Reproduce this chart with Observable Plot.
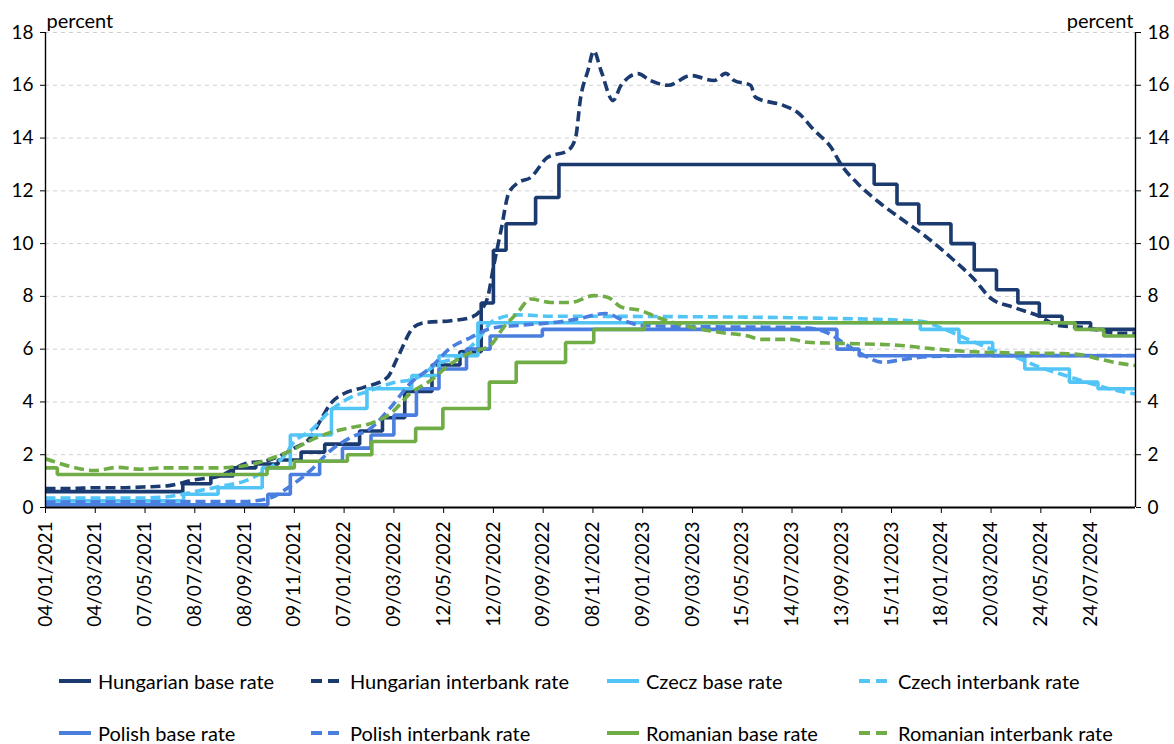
<!DOCTYPE html>
<html>
<head>
<meta charset="utf-8">
<script src="https://cdn.jsdelivr.net/npm/d3@7"></script>
<script src="https://cdn.jsdelivr.net/npm/@observablehq/plot@0.6"></script>
<style>
  html, body { margin: 0; padding: 0; background: #fff; }
  body { width: 1174px; height: 744px; overflow: hidden; font-family: Lato, "Noto Sans", sans-serif; }
  #chart svg { display: block; }
  #legend { position: relative; width: 1174px; height: 104px; font-size: 20px; line-height: 20px; color: #000; }
  .item { position: absolute; display: flex; align-items: center; white-space: nowrap; height: 20px; }
  .item svg { display: block; }
</style>
</head>
<body>
<div id="chart"></div>
<div id="legend"></div>
<script>
// ---- tick labels (category axis, every ~2 months of business days) ----
const tickLabels = ["04/01/2021","04/03/2021","07/05/2021","08/07/2021","08/09/2021","09/11/2021",
  "07/01/2022","09/03/2022","12/05/2022","12/07/2022","09/09/2022","08/11/2022",
  "09/01/2023","09/03/2023","15/05/2023","14/07/2023","13/09/2023","15/11/2023",
  "18/01/2024","20/03/2024","24/05/2024","24/07/2024"];
const endDateStr = "2024-09-17";
const yTicks = [0,2,4,6,8,10,12,14,16,18];

// ---- series: [date, percent] ----
const huBase = [["2021-01-04",0.6],["2021-06-23",0.9],["2021-07-28",1.2],["2021-08-25",1.5],["2021-09-22",1.65],
  ["2021-10-20",1.8],["2021-11-17",2.1],["2021-12-15",2.4],["2022-01-26",2.9],["2022-02-23",3.4],["2022-03-23",4.4],
  ["2022-04-27",5.4],["2022-06-01",5.9],["2022-06-27",7.75],["2022-07-12",9.75],["2022-07-27",10.75],["2022-08-31",11.75],
  ["2022-09-28",13],["2023-10-24",12.25],["2023-11-22",11.5],["2023-12-20",10.75],["2024-01-30",10],["2024-02-28",9],
  ["2024-03-27",8.25],["2024-04-24",7.75],["2024-05-22",7.25],["2024-06-19",7],["2024-07-24",6.75]];
const huInterbank = [["2021-01-04",0.72],["2021-02-03",0.72],["2021-03-04",0.75],["2021-04-05",0.75],["2021-05-07",0.78],
  ["2021-06-06",0.83],["2021-07-08",1.05],["2021-08-08",1.2],["2021-09-08",1.65],["2021-10-09",1.8],["2021-11-09",2.25],
  ["2021-11-28",2.65],["2021-12-10",3.3],["2021-12-22",3.94],["2022-01-07",4.32],["2022-01-31",4.55],["2022-03-01",4.93],
  ["2022-03-14",5.7],["2022-04-03",6.82],["2022-04-16",7.0],["2022-05-21",7.08],["2022-06-14",7.2],["2022-06-26",7.46],
  ["2022-07-05",7.96],["2022-07-12",9.1],["2022-07-21",10.5],["2022-07-30",11.9],["2022-08-10",12.3],["2022-08-25",12.5],
  ["2022-09-14",13.26],["2022-10-09",13.53],["2022-10-18",14.0],["2022-10-24",15.5],["2022-11-02",16.56],["2022-11-09",17.3],
  ["2022-11-18",16.56],["2022-12-03",15.42],["2022-12-13",16.0],["2023-01-03",16.44],["2023-01-18",16.18],["2023-02-08",16.0],
  ["2023-03-07",16.37],["2023-04-07",16.18],["2023-04-23",16.45],["2023-05-04",16.18],["2023-05-25",16.0],["2023-05-31",15.54],
  ["2023-07-04",15.23],["2023-07-21",14.97],["2023-08-10",14.3],["2023-08-31",13.64],["2023-09-12",13.0],["2023-10-03",12.28],
  ["2023-11-01",11.52],["2023-11-27",10.95],["2024-01-01",10.2],["2024-02-03",9.36],["2024-02-27",8.68],["2024-03-20",7.92],
  ["2024-04-19",7.58],["2024-05-20",7.27],["2024-06-14",6.9],["2024-07-16",6.82],["2024-08-27",6.6],["2024-09-17",6.6]];
const czBase = [["2021-01-04",0.25],["2021-06-24",0.5],["2021-08-06",0.75],["2021-09-30",1.5],["2021-11-04",2.75],
  ["2021-12-23",3.75],["2022-02-04",4.5],["2022-04-01",5.0],["2022-05-06",5.75],["2022-06-23",7.0],["2023-12-22",6.75],
  ["2024-02-09",6.25],["2024-03-22",5.75],["2024-05-03",5.25],["2024-06-28",4.75],["2024-08-02",4.5]];
const czInterbank = [["2021-01-04",0.36],["2021-03-04",0.36],["2021-05-07",0.36],["2021-06-07",0.42],["2021-07-08",0.6],
  ["2021-08-08",0.8],["2021-09-08",1.0],["2021-10-09",1.5],["2021-10-26",1.9],["2021-11-09",2.5],["2021-11-28",2.9],
  ["2021-12-22",3.68],["2022-01-15",4.17],["2022-02-08",4.43],["2022-03-05",4.7],["2022-04-09",4.93],["2022-05-04",5.45],
  ["2022-05-29",5.7],["2022-06-22",6.33],["2022-07-12",7.08],["2022-08-10",7.3],["2022-09-18",7.25],["2023-01-07",7.24],
  ["2023-09-12",7.16],["2023-12-23",7.06],["2024-01-18",6.8],["2024-02-18",6.4],["2024-03-20",6.0],["2024-04-21",5.7],
  ["2024-05-24",5.3],["2024-06-23",5.0],["2024-07-24",4.7],["2024-08-23",4.45],["2024-09-17",4.3]];
const plBase = [["2021-01-04",0.1],["2021-10-07",0.5],["2021-11-04",1.25],["2021-12-09",1.75],["2022-01-05",2.25],
  ["2022-02-09",2.75],["2022-03-09",3.5],["2022-04-07",4.5],["2022-05-06",5.25],["2022-06-09",6.0],["2022-07-08",6.5],
  ["2022-09-08",6.75],["2023-09-07",6.0],["2023-10-05",5.75]];
const plInterbank = [["2021-01-04",0.21],["2021-09-08",0.23],["2021-10-09",0.35],["2021-11-05",0.83],["2021-11-28",1.4],
  ["2021-12-22",2.16],["2022-01-15",2.65],["2022-02-08",2.99],["2022-03-05",3.79],["2022-03-30",4.7],["2022-04-25",5.3],
  ["2022-05-21",6.06],["2022-06-14",6.44],["2022-07-08",6.78],["2022-08-10",6.9],["2022-09-18",7.0],["2022-10-16",7.12],
  ["2022-11-24",7.35],["2022-12-16",7.09],["2023-01-07",6.9],["2023-03-20",6.85],["2023-07-25",6.82],["2023-08-24",6.65],
  ["2023-09-12",6.3],["2023-10-07",5.83],["2023-11-05",5.5],["2023-11-27",5.6],["2024-01-05",5.72],["2024-03-20",5.76],
  ["2024-09-17",5.76]];
const roBase = [["2021-01-04",1.5],["2021-01-18",1.25],["2021-10-06",1.5],["2021-11-09",1.75],["2022-01-11",2.0],
  ["2022-02-10",2.5],["2022-04-06",3.0],["2022-05-11",3.75],["2022-07-07",4.75],["2022-08-08",5.5],["2022-10-06",6.25],
  ["2022-11-09",6.75],["2023-01-11",7.0],["2024-07-05",6.75],["2024-08-09",6.5]];
const roInterbank = [["2021-01-04",1.85],["2021-01-18",1.7],["2021-02-03",1.55],["2021-03-03",1.4],["2021-04-02",1.52],
  ["2021-05-01",1.45],["2021-05-30",1.5],["2021-08-01",1.5],["2021-09-08",1.58],["2021-10-10",1.85],["2021-11-05",2.16],
  ["2021-11-28",2.54],["2021-12-22",2.84],["2022-01-15",3.03],["2022-02-08",3.18],["2022-03-05",3.56],["2022-03-30",4.32],
  ["2022-04-25",4.81],["2022-05-21",5.45],["2022-06-14",5.87],["2022-07-08",6.14],["2022-07-24",6.82],["2022-08-10",7.4],
  ["2022-08-25",7.9],["2022-09-18",7.77],["2022-10-12",7.77],["2022-11-09",8.03],["2022-11-27",7.96],["2022-12-13",7.6],
  ["2023-01-07",7.46],["2023-01-27",7.2],["2023-02-27",6.9],["2023-04-16",6.63],["2023-05-22",6.5],["2023-06-06",6.37],
  ["2023-07-13",6.37],["2023-08-02",6.26],["2023-09-12",6.22],["2023-11-27",6.14],["2024-01-05",6.02],["2024-02-15",5.92],
  ["2024-03-29",5.87],["2024-06-22",5.83],["2024-07-12",5.79],["2024-08-02",5.64],["2024-08-22",5.5],["2024-09-17",5.38]];

const seriesNames = ["Hungarian base rate","Hungarian interbank rate","Czecz base rate","Czech interbank rate",
  "Polish base rate","Polish interbank rate","Romanian base rate","Romanian interbank rate"];
const seriesColors = ["#1B3A6F","#1B3A6F","#52C5F6","#52C5F6","#4A7FE0","#4A7FE0","#70AD47","#70AD47"];
const seriesData = [huBase, huInterbank, czBase, czInterbank, plBase, plInterbank, roBase, roInterbank];
const seriesIsStep = [true,false,true,false,true,false,true,false];

// ---- build ----
const parseTick = s => { const [d,m,y] = s.split("/").map(Number); return new Date(Date.UTC(y, m-1, d)); };
const tickDates = tickLabels.map(parseTick);
const endDate = new Date(endDateStr);
// category axis: each labelled date sits at an evenly spaced position
const pos = d3.scaleUtc().domain(tickDates).range(tickDates.map((d, i) => i));
const xMax = pos(endDate);

const marks = [
  Plot.gridY(yTicks.filter(v => v > 0), {stroke: "#cfcfcf", strokeOpacity: 1, strokeDasharray: "4,4", strokeWidth: 1})
];
seriesData.forEach((data, i) => {
  let rows = data.map(([d, v]) => ({x: pos(new Date(d)), y: v}));
  if (seriesIsStep[i]) rows.push({x: xMax, y: data[data.length - 1][1]});
  marks.push(Plot.line(rows, {
    x: "x", y: "y",
    stroke: seriesColors[i], strokeWidth: 3.6,
    strokeDasharray: seriesIsStep[i] ? null : "10,5",
    curve: seriesIsStep[i] ? "step-after" : "monotone-x",
    strokeLinejoin: "miter", strokeLinecap: "butt"
  }));
});
marks.push(
  Plot.ruleX([0, xMax], {y1: 0, y2: 18, stroke: "#000", strokeWidth: 1.4}),
  Plot.ruleY([0], {stroke: "#000", strokeWidth: 2}),
  Plot.axisY({anchor: "left", ticks: yTicks, tickSize: 5, tickPadding: 7, label: null, tickFormat: d => String(d)}),
  Plot.axisY({anchor: "right", ticks: yTicks, tickSize: 5, tickPadding: 7, label: null, tickFormat: d => String(d)}),
  Plot.axisX({ticks: d3.range(tickLabels.length), tickFormat: i => tickLabels[i], tickRotate: -90,
    tickSize: 6, tickPadding: 8, label: null}),
  Plot.text(["percent"], {frameAnchor: "top-left", dy: -19, dx: 1, textAnchor: "start", fontSize: 20}),
  Plot.text(["percent"], {frameAnchor: "top-right", dy: -19, dx: -2, textAnchor: "end", fontSize: 20})
);

const chart = Plot.plot({
  width: 1174, height: 640,
  marginLeft: 45, marginRight: 39, marginTop: 32, marginBottom: 133,
  x: {type: "linear", domain: [0, xMax], axis: null},
  y: {domain: [0, 18], axis: null},
  style: {fontFamily: "Lato, 'Noto Sans', sans-serif", fontSize: "19px", color: "#000", background: "#fff", overflow: "visible"},
  marks
});
document.getElementById("chart").appendChild(chart);

// ---- legend ----
const legend = document.getElementById("legend");
const colSwatchX = [59, 311, 607, 859];
const rowY = [41, 93];
seriesNames.forEach((name, k) => {
  const row = Math.floor(k / 4), col = k % 4;
  const item = document.createElement("div");
  item.className = "item";
  item.style.left = colSwatchX[col] + "px";
  item.style.top = (rowY[row] - 10) + "px";
  const dashed = !seriesIsStep[k];
  item.innerHTML = `<svg width="32" height="8"><line x1="0" x2="32" y1="4" y2="4" stroke="${seriesColors[k]}" stroke-width="4" ${dashed ? 'stroke-dasharray="11,6"' : ''}/></svg><span style="margin-left:7px">${name}</span>`;
  legend.appendChild(item);
});
</script>
</body>
</html>
